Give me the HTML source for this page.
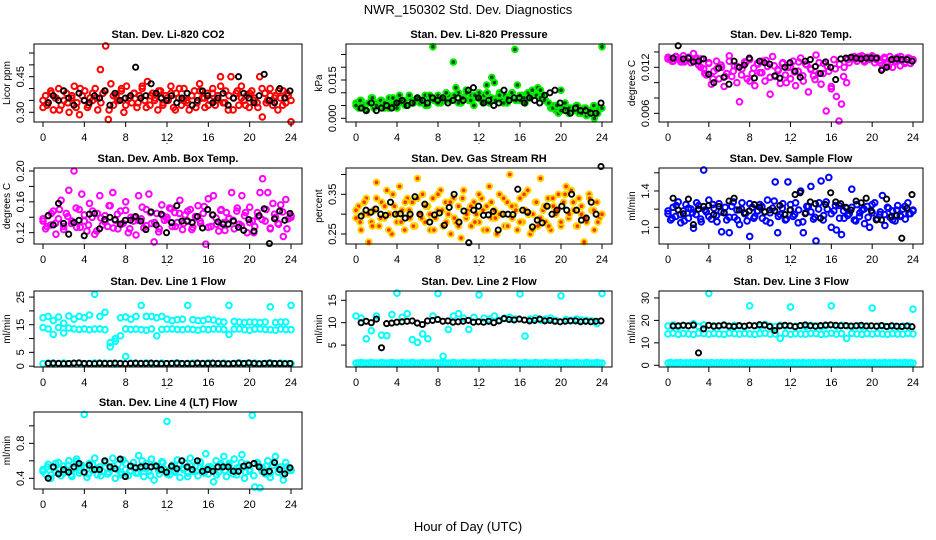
<!DOCTYPE html>
<html><head><meta charset="utf-8"><style>
html,body{margin:0;padding:0;background:#fff;}
svg{display:block;font-family:"Liberation Sans",sans-serif;}
</style></head><body>
<svg id="chart" width="936" height="540" viewBox="0 0 936 540">
<text x="468" y="14" text-anchor="middle" font-size="13">NWR_150302  Std. Dev. Diagnostics</text>
<text x="468" y="531" text-anchor="middle" font-size="13">Hour of Day (UTC)</text>
</svg>
<script>
// ---------- data ----------
const xTicks = [0,4,8,12,16,20,24];
const co2Color = [0.32,0.37,0.34,0.39,0.31,0.36,0.40,0.33,0.35,0.38,0.30,0.36,0.41,0.34,0.29,0.37,0.39,0.32,0.36,0.35,0.40,0.31,0.48,0.38,0.58,0.27,0.42,0.33,0.37,0.35,0.39,0.30,0.41,0.36,0.34,0.38,0.32,0.37,0.40,0.35,0.43,0.33,0.38,0.36,0.31,0.39,0.34,0.37,0.35,0.41,0.32,0.38,0.36,0.33,0.40,0.35,0.31,0.37,0.39,0.34,0.42,0.36,0.32,0.38,0.35,0.40,0.33,0.37,0.45,0.34,0.39,0.31,0.45,0.36,0.38,0.33,0.41,0.35,0.37,0.32,0.39,0.36,0.34,0.45,0.28,0.38,0.35,0.40,0.33,0.37,0.31,0.36,0.39,0.34,0.37,0.26];
const co2Color2 = [0.35,0.33,0.38,0.36,0.31,0.39,0.34,0.37,0.32,0.40,0.35,0.33,0.38,0.36,0.34,0.39,0.31,0.37,0.35,0.40,0.33,0.36,0.38,0.34,0.41,0.32,0.37,0.35,0.39,0.33,0.36,0.38,0.31,0.40,0.35,0.34,0.37,0.32,0.39,0.36,0.33,0.38,0.35,0.41,0.34,0.37,0.31,0.39,0.36,0.33,0.38,0.35,0.32,0.40,0.34,0.37,0.36,0.39,0.33,0.38,0.35];
const co2Black = [0.34,0.37,0.35,0.39,0.36,0.33,0.38,0.35,0.34,0.37,0.36,0.39,0.33,0.38,0.35,0.36,0.37,0.49,0.36,0.37,0.42,0.38,0.36,0.35,0.37,0.34,0.36,0.38,0.33,0.35,0.39,0.37,0.34,0.36,0.38,0.33,0.36,0.45,0.38,0.36,0.34,0.37,0.46,0.35,0.34,0.40,0.36,0.39];
const presColor = [0.006,0.004,0.007,0.005,0.003,0.006,0.008,0.004,0.006,0.005,0.007,0.004,0.006,0.008,0.005,0.007,0.004,0.009,0.006,0.007,0.005,0.008,0.006,0.007,0.008,0.006,0.007,0.009,0.005,0.008,0.028,0.007,0.009,0.006,0.008,0.007,0.009,0.007,0.022,0.012,0.010,0.006,0.008,0.011,0.007,0.009,0.005,0.008,0.010,0.007,0.009,0.013,0.006,0.016,0.014,0.008,0.010,0.007,0.009,0.006,0.008,0.010,0.027,0.013,0.007,0.009,0.006,0.010,0.008,0.011,0.009,0.012,0.011,0.009,0.007,0.006,0.004,0.005,0.003,0.002,0.011,0.004,0.003,0.002,0.004,0.003,0.005,0.002,0.003,0.004,0.001,0.002,0.003,0.0,0.002,0.004,0.028];
const presColor2 = [0.005,0.007,0.004,0.006,0.008,0.005,0.007,0.006,0.004,0.008,0.006,0.007,0.005,0.009,0.006,0.008,0.007,0.005,0.009,0.007,0.006,0.008,0.010,0.007,0.009,0.006,0.008,0.010,0.007,0.009,0.008,0.006,0.010,0.008,0.007,0.009,0.006,0.008,0.010,0.007,0.009,0.008,0.010,0.011,0.009,0.008,0.007,0.006,0.004,0.005,0.003,0.006,0.004,0.003,0.005,0.002,0.004,0.003,0.005,0.002,0.004];
const presBlack = [0.004,0.003,0.006,0.003,0.004,0.005,0.004,0.006,0.007,0.005,0.006,0.008,0.007,0.006,0.008,0.007,0.008,0.006,0.007,0.008,0.007,0.011,0.012,0.008,0.006,0.007,0.005,0.006,0.011,0.007,0.008,0.008,0.006,0.008,0.007,0.006,0.009,0.010,0.011,0.006,0.003,0.002,0.004,0.003,0.003,0.002,0.002,0.006];
const tempColor = [0.0133,0.0130,0.0128,0.0134,0.0131,0.0127,0.0135,0.0129,0.0132,0.0126,0.0138,0.0130,0.0123,0.0131,0.0118,0.0110,0.0125,0.0098,0.0115,0.0128,0.0105,0.0120,0.0095,0.0112,0.0135,0.0108,0.0122,0.0100,0.0075,0.0118,0.0127,0.0105,0.0130,0.0112,0.0096,0.0125,0.0113,0.0128,0.0102,0.0121,0.0085,0.0134,0.0108,0.0117,0.0099,0.0126,0.0110,0.0120,0.0105,0.0128,0.0096,0.0115,0.0132,0.0102,0.0124,0.0088,0.0118,0.0109,0.0136,0.0112,0.0098,0.0125,0.0063,0.0115,0.0092,0.0130,0.0082,0.0050,0.0072,0.0120,0.0100,0.0126,0.0131,0.0134,0.0128,0.0132,0.0135,0.0127,0.0133,0.0130,0.0134,0.0126,0.0132,0.0129,0.0118,0.0131,0.0124,0.0134,0.0120,0.0128,0.0133,0.0122,0.0130,0.0127,0.0132,0.0125,0.0130];
const tempColor2 = [0.0131,0.0128,0.0134,0.0130,0.0127,0.0133,0.0129,0.0132,0.0120,0.0112,0.0126,0.0105,0.0118,0.0123,0.0108,0.0128,0.0115,0.0121,0.0110,0.0126,0.0102,0.0119,0.0124,0.0113,0.0129,0.0107,0.0122,0.0116,0.0125,0.0100,0.0120,0.0114,0.0127,0.0109,0.0123,0.0117,0.0104,0.0126,0.0112,0.0121,0.0095,0.0118,0.0124,0.0108,0.0130,0.0133,0.0131,0.0134,0.0129,0.0132,0.0135,0.0130,0.0126,0.0133,0.0121,0.0131,0.0128,0.0134,0.0125,0.0132,0.0129];
const tempBlack = [0.0132,0.0148,0.0131,0.0132,0.0127,0.0128,0.0131,0.0111,0.0100,0.0119,0.0107,0.0098,0.0128,0.0120,0.0123,0.0132,0.0106,0.0128,0.0126,0.0124,0.0109,0.0106,0.0120,0.0126,0.0115,0.0107,0.0128,0.0130,0.0121,0.0112,0.0127,0.0120,0.0104,0.0131,0.0132,0.0133,0.0132,0.0131,0.0132,0.0132,0.0132,0.0116,0.0120,0.0130,0.0131,0.0130,0.0130,0.0128];
const ambColor = [0.135,0.125,0.142,0.130,0.148,0.118,0.138,0.162,0.128,0.145,0.175,0.132,0.200,0.127,0.150,0.170,0.135,0.122,0.158,0.140,0.118,0.145,0.168,0.130,0.142,0.128,0.155,0.172,0.136,0.125,0.148,0.132,0.160,0.120,0.140,0.135,0.117,0.168,0.138,0.126,0.150,0.170,0.132,0.108,0.145,0.125,0.156,0.136,0.140,0.152,0.128,0.146,0.133,0.162,0.124,0.143,0.135,0.150,0.127,0.141,0.155,0.132,0.145,0.105,0.164,0.128,0.168,0.139,0.122,0.150,0.133,0.146,0.138,0.172,0.125,0.148,0.131,0.168,0.142,0.120,0.153,0.135,0.128,0.146,0.172,0.190,0.135,0.172,0.125,0.158,0.140,0.132,0.156,0.115,0.163,0.138,0.142];
const ambColor2 = [0.138,0.128,0.145,0.132,0.150,0.124,0.141,0.135,0.152,0.127,0.143,0.130,0.148,0.122,0.139,0.134,0.155,0.126,0.144,0.131,0.149,0.125,0.140,0.136,0.153,0.129,0.146,0.133,0.121,0.142,0.137,0.151,0.128,0.145,0.132,0.148,0.124,0.140,0.135,0.154,0.127,0.143,0.131,0.149,0.123,0.139,0.136,0.152,0.129,0.146,0.133,0.120,0.141,0.137,0.150,0.126,0.144,0.131,0.147,0.125,0.140];
const ambBlack = [0.142,0.130,0.158,0.132,0.118,0.133,0.136,0.116,0.144,0.145,0.125,0.137,0.140,0.137,0.131,0.136,0.136,0.141,0.135,0.124,0.147,0.130,0.144,0.120,0.133,0.155,0.135,0.135,0.133,0.141,0.126,0.150,0.143,0.134,0.131,0.131,0.135,0.127,0.123,0.137,0.122,0.142,0.151,0.106,0.138,0.148,0.136,0.145];
const rhColor = [0.29,0.32,0.26,0.30,0.34,0.23,0.28,0.31,0.38,0.27,0.33,0.29,0.36,0.30,0.25,0.32,0.28,0.37,0.31,0.26,0.34,0.29,0.33,0.27,0.39,0.30,0.35,0.28,0.32,0.26,0.34,0.29,0.31,0.36,0.27,0.33,0.30,0.25,0.34,0.28,0.32,0.24,0.36,0.29,0.31,0.27,0.33,0.30,0.28,0.34,0.26,0.32,0.37,0.29,0.31,0.25,0.35,0.30,0.27,0.33,0.40,0.29,0.32,0.26,0.34,0.28,0.31,0.36,0.25,0.30,0.33,0.27,0.39,0.31,0.28,0.34,0.26,0.32,0.30,0.35,0.27,0.33,0.37,0.29,0.36,0.31,0.27,0.34,0.30,0.23,0.28,0.35,0.31,0.26,0.33,0.29,0.30];
const rhColor2 = [0.31,0.28,0.33,0.30,0.27,0.34,0.29,0.32,0.26,0.35,0.30,0.28,0.33,0.31,0.27,0.34,0.29,0.32,0.30,0.26,0.35,0.31,0.28,0.33,0.29,0.27,0.34,0.30,0.32,0.28,0.35,0.31,0.26,0.33,0.29,0.30,0.34,0.27,0.32,0.31,0.28,0.35,0.30,0.26,0.33,0.29,0.32,0.27,0.34,0.31,0.28,0.35,0.30,0.33,0.27,0.32,0.29,0.34,0.31,0.28,0.30];
const rhBlack = [0.295,0.31,0.305,0.313,0.30,0.297,0.33,0.30,0.301,0.29,0.30,0.344,0.30,0.325,0.28,0.298,0.303,0.272,0.317,0.35,0.28,0.308,0.228,0.31,0.32,0.297,0.298,0.307,0.26,0.30,0.30,0.299,0.363,0.31,0.305,0.268,0.285,0.278,0.32,0.30,0.31,0.32,0.31,0.35,0.31,0.285,0.29,0.33,0.30,0.42];
const flowColor = [1.15,1.08,1.22,1.12,1.28,1.05,1.18,1.25,1.10,1.20,0.99,1.14,1.24,1.06,1.63,1.17,1.30,1.09,1.21,1.13,1.26,0.95,1.16,1.08,0.94,1.23,1.11,1.19,1.03,1.27,1.15,1.07,0.90,1.22,1.12,1.18,1.25,1.10,1.17,1.30,1.05,1.21,1.50,0.94,1.14,1.26,1.08,1.50,1.19,1.12,1.27,1.05,1.40,0.94,1.16,1.23,1.45,1.09,0.85,1.20,1.51,1.13,1.28,1.55,1.00,1.18,0.97,1.24,0.92,1.10,1.21,1.15,1.42,1.08,1.25,1.12,1.19,1.04,1.23,1.00,1.16,1.27,1.09,1.14,1.35,1.02,1.22,1.11,1.18,1.07,1.24,1.13,1.20,1.09,1.27,1.15,1.19];
const flowColor2 = [1.18,1.10,1.24,1.14,1.07,1.21,1.16,1.27,1.09,1.19,1.12,1.25,1.06,1.17,1.22,1.11,1.28,1.08,1.20,1.15,1.26,1.10,1.18,1.23,1.07,1.16,1.29,1.12,1.21,1.09,1.25,1.14,1.19,1.06,1.23,1.17,1.11,1.27,1.08,1.20,1.15,1.24,1.10,1.18,1.13,1.22,1.07,1.16,1.20,1.11,1.25,1.09,1.17,1.14,1.21,1.08,1.19,1.12,1.23,1.15,1.18];
const flowBlack = [1.32,1.19,1.15,1.31,1.03,1.20,1.23,1.24,1.14,1.23,1.16,1.29,1.32,1.19,1.16,1.18,1.25,1.22,1.17,1.19,1.18,1.24,1.14,1.19,1.36,1.38,1.15,1.28,1.26,1.10,1.25,1.38,1.28,1.26,1.22,1.19,1.29,1.27,1.32,1.18,1.08,1.08,1.31,1.12,1.13,0.88,1.21,1.36];
const line1BandA = [17.5,18,16.5,17.8,15.5,18.2,17,18,17.5,18.5,26,18,19.5,8.5,9,17.5,17.8,17,18,22,18,18,17.5,18,17,16.5,16.8,17,22,16.8,16.5,16.5,17,16.7,16.2,16,22,16.2,16,15.8,16,15.9,15.8,16,21.5,15.8,16,16,22];
const line1BandB = [14,13.5,11.5,14,12,13.8,13.5,13.3,13.5,13.2,13.4,13.5,13.2,7,10,11,13.5,13.3,13.4,13.2,13,13.5,11,13.3,13.4,13.5,13.3,13.2,13.4,13.3,13,13.4,13.2,13.5,13.4,13.3,11.5,13.4,13.5,13.2,13,13.4,13.5,13.3,13.2,13,13.4,13.3,13.2];
const line1BandC = [0.9,1.1,0.8,1.0,1.2,0.9,1.0,1.1,0.8,1.0,1.2,0.9,1.1,1.0,0.8,1.0,3.5,1.1,0.9,1.0,1.2,0.8,1.0,1.1,0.9,1.0,1.2,0.8,1.0,1.1,0.9,1.0,1.2,0.9,1.0,1.1,0.8,1.0,1.2,0.9,1.0,1.1,0.8,1.0,1.2,0.9,1.1,1.0,0.9];
const line1Black = [1.0,1.1,1.0,0.9,1.0,1.1,1.2,1.0,1.0,0.9,1.1,1.0,1.0,1.1,1.0,0.9,1.0,1.1,1.0,1.0,1.1,1.0,0.9,1.0,1.0,1.1,1.0,1.0,0.9,1.1,1.0,1.0,1.1,1.0,1.0,0.9,1.0,1.1,1.0,1.2,1.0,0.9,1.0,1.1,1.0,1.0,0.9,1.0];
const line2BandA = [11.5,11,6.4,8.2,11.5,7.2,7.1,11.8,16.6,11.2,12,6.2,5.6,7.5,6.4,11.5,16.5,2.5,8.5,11.5,12,11,8.5,11.2,16.2,11,10.8,11.5,10.5,11,11.2,10.8,16.4,7,10.8,11,10.6,10.8,11,10.5,16,10.7,10.5,10.8,10.6,10.5,10.4,9.8,16.5];
const line2BandC = [1.0,1.0,1.1,1.0,1.0,1.0,1.1,1.0,1.0,1.0,1.1,1.0,1.0,1.0,1.1,1.0,1.0,1.0,1.1,1.0,1.0,1.0,1.1,1.0,1.0,1.0,1.1,1.0,1.0,1.0,1.1,1.0,1.0,1.0,1.1,1.0,1.0,1.0,1.1,1.0,1.0,1.0,1.1,1.0,1.0,1.0,1.1,1.0,1.0,1.0,1.1,1.0,1.0,1.0,1.1,1.0,1.0,1.0,1.1,1.0,1.0,1.0,1.1,1.0,1.0,1.0,1.1,1.0,1.0,1.0,1.1,1.0,1.0,1.0,1.1,1.0,1.0,1.0,1.1,1.0,1.0,1.0,1.1,1.0,1.0,1.0,1.1,1.0,1.0,1.0,1.1,1.0,1.0,1.0,1.1,1.0,1.0];
const line2Black = [10,10.3,10,10.8,4.4,9.8,9.9,10.1,10.2,10.3,10.4,9.9,9.6,10.4,10.5,10.7,10.3,10.4,10.1,10.2,10.3,10.5,10.1,10.2,10.1,10.3,10.0,10.4,10.9,10.7,10.6,10.8,10.6,10.4,10.5,10.8,10.4,10.5,10.3,10.2,10.3,10.4,10.4,10.2,10.3,10.2,10.3,10.4];
const line3BandA = [17.5,18,17.2,17.8,17.5,18.5,17.3,18,32,17.6,17.4,18,17.2,17.8,17.5,17.3,26.5,17.6,17.4,18.2,17.5,17.2,17.8,17.5,26,17.4,17.6,17.3,17.8,17.5,17.2,17.6,26.5,17.4,17.8,17.5,17.3,17.6,17.2,17.5,25.5,17.4,17.6,17.3,17.5,17.2,17.4,17.6,25];
const line3BandB = [14,14.3,13.8,14.2,14,13.7,14.3,14.1,13.9,14.2,14,13.8,14.3,14.1,13.9,14.2,14,13.8,14.1,14.3,13.9,14,12,14.2,13.8,14.1,14,13.9,14.2,14.1,13.8,14,14.3,13.9,14.1,12,14.2,14,13.8,14.1,13.9,14.2,14,13.8,14.1,14,13.9,14.2,14];
const line3BandC = [1.0,1.2,0.9,1.1,1.0,1.2,0.9,1.1,1.0,1.2,0.9,1.1,1.0,1.2,0.9,1.1,1.0,1.2,0.9,1.1,1.0,1.2,0.9,1.1,1.0,1.2,0.9,1.1,1.0,1.2,0.9,1.1,1.0,1.2,0.9,1.1,1.0,1.2,0.9,1.1,1.0,1.2,0.9,1.1,1.0,1.2,0.9,1.1,1.0,1.2,0.9,1.1,1.0,1.2,0.9,1.1,1.0,1.2,0.9,1.1,1.0,1.2,0.9,1.1,1.0,1.2,0.9,1.1,1.0,1.2,0.9,1.1,1.0,1.2,0.9,1.1,1.0,1.2,0.9,1.1,1.0,1.2,0.9,1.1,1.0,1.2,0.9,1.1,1.0,1.2,0.9,1.1,1.0,1.2,0.9,1.1,1.0];
const line3Black = [17.5,17.6,17.8,17.6,17.9,5.5,16.2,17.8,17.4,17.6,17.9,17.5,17.3,17.7,17.4,17.8,17.6,18.1,17.9,17.3,15.5,17.5,17.8,17.6,17.2,17.7,18,17.6,17.4,17.7,17.9,18,17.8,17.6,17.7,17.5,17.6,17.8,17.5,17.6,17.4,17.7,17.3,17.6,17.4,17.3,17.5,17.2];
const line4Color = [0.50,0.45,0.56,0.40,0.52,0.47,0.58,0.43,0.54,0.49,0.60,0.44,0.51,0.62,0.46,0.55,1.13,0.41,0.57,0.49,0.63,0.44,0.53,0.48,0.59,0.45,0.52,0.63,0.40,0.56,0.47,0.61,0.50,0.43,0.54,0.58,0.46,0.66,0.51,0.42,0.57,0.48,0.62,0.38,0.53,0.45,0.59,0.50,1.05,0.44,0.55,0.49,0.61,0.41,0.52,0.57,0.46,0.63,0.48,0.54,0.43,0.58,0.50,0.68,0.45,0.53,0.36,0.60,0.47,0.55,0.65,0.42,0.57,0.49,0.62,0.44,0.53,0.67,0.40,0.56,0.48,1.12,0.30,0.58,0.29,0.52,0.45,0.60,0.41,0.55,0.65,0.47,0.53,0.38,0.58,0.50,0.49];
const line4Color2 = [0.48,0.53,0.44,0.57,0.50,0.46,0.55,0.42,0.59,0.49,0.52,0.45,0.56,0.51,0.43,0.58,0.47,0.54,0.50,0.44,0.57,0.48,0.53,0.46,0.60,0.51,0.43,0.55,0.49,0.58,0.45,0.52,0.47,0.56,0.50,0.42,0.54,0.48,0.59,0.46,0.53,0.51,0.44,0.57,0.49,0.55,0.45,0.52,0.58,0.47,0.50,0.43,0.56,0.48,0.54,0.46,0.59,0.51,0.44,0.53,0.49];
const line4Black = [0.40,0.53,0.45,0.50,0.47,0.53,0.57,0.47,0.55,0.50,0.50,0.60,0.53,0.51,0.62,0.42,0.54,0.52,0.53,0.54,0.53,0.54,0.50,0.47,0.54,0.51,0.60,0.53,0.50,0.60,0.48,0.50,0.48,0.53,0.53,0.53,0.48,0.48,0.54,0.55,0.57,0.53,0.47,0.48,0.58,0.50,0.45,0.52];

// ---------- layout ----------
const NS = "http://www.w3.org/2000/svg";
const svg = document.getElementById('chart');
const cols = [{l:34,r:302,x0:43,x24:291},{l:346,r:612,x0:356,x24:602},{l:659,r:923,x0:668,x24:913}];
const rows = [{t:44,b:122},{t:168,b:244},{t:291,b:367},{t:412,b:489}];
function mk(tag, attrs, parent){const e=document.createElementNS(NS,tag);for(const k in attrs)e.setAttribute(k,attrs[k]);(parent||svg).appendChild(e);return e;}

const panels = [
 {id:'co2',title:'Stan. Dev. Li-820 CO2',yl:'Licor ppm',c:0,r:0,ymin:0.259,ymax:0.588,ticks:[0.30,0.35,0.40,0.45,0.50,0.55],labels:[0.30,0.45],dec:2,
  series:[{d:co2Color,col:'#ff0000'},{d:co2Color2,col:'#ff0000'},{d:co2Black,col:'#000',black:true}]},
 {id:'pressure',title:'Stan. Dev. Li-820 Pressure',yl:'kPa',c:1,r:0,ymin:-0.00145,ymax:0.0291,ticks:[0,0.005,0.010,0.015,0.020,0.025],labels:[0,0.015],dec:3,
  series:[{d:presColor,col:'#00ee00',dot:'#114411'},{d:presColor2,col:'#00ee00',dot:'#114411'},{d:presBlack,col:'#000',black:true}]},
 {id:'temp',title:'Stan. Dev. Li-820 Temp.',yl:'degrees C',c:2,r:0,ymin:0.00487,ymax:0.01504,ticks:[0.006,0.008,0.010,0.012,0.014],labels:[0.006,0.012],dec:3,
  series:[{d:tempColor,col:'#ff00ff'},{d:tempColor2,col:'#ff00ff'},{d:tempBlack,col:'#000',black:true}]},
 {id:'amb-box-temp',title:'Stan. Dev. Amb. Box Temp.',yl:'degrees C',c:0,r:1,ymin:0.1053,ymax:0.2039,ticks:[0.12,0.14,0.16,0.18,0.20],labels:[0.12,0.16,0.20],dec:2,
  series:[{d:ambColor,col:'#ff00ff'},{d:ambColor2,col:'#ff00ff'},{d:ambBlack,col:'#000',black:true}]},
 {id:'gas-rh',title:'Stan. Dev. Gas Stream RH',yl:'percent',c:1,r:1,ymin:0.2248,ymax:0.4163,ticks:[0.25,0.30,0.35,0.40],labels:[0.25,0.35],dec:2,
  series:[{d:rhColor,col:'#ffd400',dot:'#ff3300'},{d:rhColor2,col:'#ffd400',dot:'#ff3300'},{d:rhBlack,col:'#000',black:true}]},
 {id:'sample-flow',title:'Stan. Dev. Sample Flow',yl:'ml/min',c:2,r:1,ymin:0.816,ymax:1.653,ticks:[1.0,1.2,1.4,1.6],labels:[1.0,1.4],dec:1,
  series:[{d:flowColor,col:'#0000ff'},{d:flowColor2,col:'#0000ff'},{d:flowBlack,col:'#000',black:true}]},
 {id:'line1-flow',title:'Stan. Dev. Line 1 Flow',yl:'ml/min',c:0,r:2,ymin:-0.3,ymax:27.2,ticks:[0,5,10,15,20,25],labels:[0,5,15,25],dec:0,
  series:[{d:line1BandA,col:'#00ffff'},{d:line1BandB,col:'#00ffff'},{d:line1BandC,col:'#00ffff'},{d:line1Black,col:'#000',black:true}]},
 {id:'line2-flow',title:'Stan. Dev. Line 2 Flow',yl:'ml/min',c:1,r:2,ymin:0.11,ymax:17.07,ticks:[5,10,15],labels:[5,10,15],dec:0,
  series:[{d:line2BandA,col:'#00ffff'},{d:line2BandC,col:'#00ffff'},{d:line2Black,col:'#000',black:true}]},
 {id:'line3-flow',title:'Stan. Dev. Line 3 Flow',yl:'ml/min',c:2,r:2,ymin:-0.76,ymax:33.1,ticks:[0,10,20,30],labels:[0,10,20,30],dec:0,
  series:[{d:line3BandA,col:'#00ffff'},{d:line3BandB,col:'#00ffff'},{d:line3BandC,col:'#00ffff'},{d:line3Black,col:'#000',black:true}]},
 {id:'line4-flow',title:'Stan. Dev. Line 4 (LT) Flow',yl:'ml/min',c:0,r:3,ymin:0.278,ymax:1.158,ticks:[0.4,0.6,0.8,1.0],labels:[0.4,0.8],dec:1,
  series:[{d:line4Color,col:'#00ffff'},{d:line4Color2,col:'#00ffff'},{d:line4Black,col:'#000',black:true}]}
];

panels.forEach(p=>{
  const C=cols[p.c], R=rows[p.r];
  const g=mk('g',{});
  
  
  const xs=h=>C.x0+(C.x24-C.x0)*h/24;
  const ys=v=>R.b-(v-p.ymin)/(p.ymax-p.ymin)*(R.b-R.t);
  const t=mk('text',{x:(C.l+C.r)/2,y:R.t-6,'text-anchor':'middle','font-size':11,'font-weight':'bold'},g);
  t.textContent=p.title;
  
  
  const pts=mk('g',{},g);
  
  
  p.series.forEach(s=>{
    const n=s.d.length;
    s.d.forEach((v,i)=>{
      const h = s.black ? 0.5+i*23.4/(n-1) : i*24/(n-1);
      const cx=xs(h), cy=ys(v);
      const c=mk('circle',{cx:cx.toFixed(1),cy:cy.toFixed(1),r:s.black?2.6:2.8,fill:s.dot?s.dot:'none',stroke:s.col,'stroke-width':s.black?1.9:2.0},pts);
      
      
    });
  });
  const b=mk('rect',{x:C.l,y:R.t,width:C.r-C.l,height:R.b-R.t,fill:'none',stroke:'#000','stroke-width':1},g);
  
  
  const xa=mk('g',{},g);
  
  
  xTicks.forEach(h=>{
    const x=xs(h);
    mk('line',{x1:x,x2:x,y1:R.b,y2:R.b+5,stroke:'#000'},xa);
    const tl=mk('text',{x:x,y:R.b+19,'text-anchor':'middle','font-size':11},xa);
    tl.textContent=h;
  });
  const dot=mk('text',{x:(C.x0+C.x24)/2,y:R.b+22,'text-anchor':'middle','font-size':9},xa);
  dot.textContent='.';
  const ya=mk('g',{},g);
  
  
  p.ticks.forEach(v=>{const y=ys(v);mk('line',{x1:C.l-5,x2:C.l,y1:y,y2:y,stroke:'#000'},ya);});
  p.labels.forEach(v=>{
    const y=ys(v), x=C.l-10;
    const tl=mk('text',{x:x,y:y,'text-anchor':'middle','font-size':11,transform:`rotate(-90 ${x} ${y})`},ya);
    tl.textContent=v.toFixed(p.dec);
  });
  const yx=C.l-24, yy=(R.t+R.b)/2;
  const yt=mk('text',{x:yx,y:yy,'text-anchor':'middle','font-size':10,transform:`rotate(-90 ${yx} ${yy})`},ya);
  yt.textContent=p.yl;
  
  
});
</script>
</body></html>
